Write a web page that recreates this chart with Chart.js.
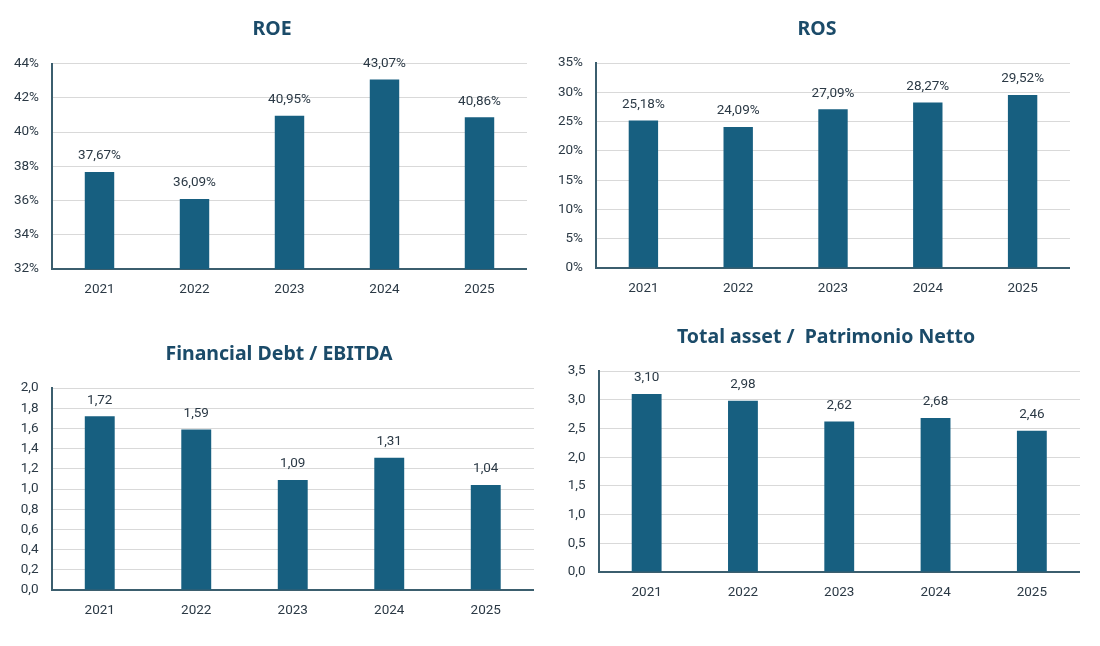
<!DOCTYPE html>
<html>
<head>
<meta charset="utf-8">
<script src="https://cdn.jsdelivr.net/npm/chart.js@4"></script>
<style>
  html, body { margin: 0; padding: 0; background: #ffffff; }
  body { width: 1100px; height: 646px; position: relative; overflow: hidden; }
  canvas { position: absolute; }
</style>
</head>
<body>
<canvas id="c1"></canvas>
<canvas id="c2"></canvas>
<canvas id="c3"></canvas>
<canvas id="c4"></canvas>
<script>
// ---- DATA ----
const years = ['2021', '2022', '2023', '2024', '2025'];
const roeValues = [37.67, 36.09, 40.95, 43.07, 40.86];
const rosValues = [25.18, 24.09, 27.09, 28.27, 29.52];
const debtEbitdaValues = [1.72, 1.59, 1.09, 1.31, 1.04];
const assetEquityValues = [3.10, 2.98, 2.62, 2.68, 2.46];

const titles = ['ROE', 'ROS', 'Financial Debt / EBITDA', 'Total asset /  Patrimonio Netto'];
const roeAxis = { min: 32, max: 44, step: 2 };
const rosAxis = { min: 0, max: 35, step: 5 };
const debtAxis = { min: 0, max: 2, step: 0.2 };
const assetAxis = { min: 0, max: 3.5, step: 0.5 };

// ---- STYLE ----
const BAR = '#175f80';
const TITLE = '#1b4b69';
const TEXT = '#2b3945';
const AXIS = '#3b5e6e';
const GRID = '#d9d9d9';
const FONT = 'Roboto, "Noto Sans", sans-serif';
const TICK_SIZE = 13.5;

const fmt = (v, dec) => v.toFixed(dec).replace('.', ',');

const dataLabels = {
  id: 'dataLabels',
  afterLayout(chart, args, opts) {
    // centre the title at the requested x position
    if (chart.titleBlock && opts.titleCenter != null) {
      chart.titleBlock.left = opts.titleCenter - 300;
      chart.titleBlock.right = opts.titleCenter + 300;
    }
  },
  afterDatasetsDraw(chart, args, opts) {
    const ctx = chart.ctx;
    ctx.save();
    ctx.font = TICK_SIZE + 'px ' + FONT;
    ctx.fillStyle = TEXT;
    ctx.textAlign = 'center';
    ctx.textBaseline = 'middle';
    const meta = chart.getDatasetMeta(0);
    const data = chart.data.datasets[0].data;
    meta.data.forEach((bar, i) => {
      ctx.fillText(opts.format(data[i]), bar.x, bar.y - 16);
    });
    ctx.restore();
  }
};

function makeChart(id, cfg) {
  const el = document.getElementById(id);
  el.width = cfg.w; el.height = cfg.h;
  el.style.left = cfg.x + 'px'; el.style.top = cfg.y + 'px';
  el.style.width = cfg.w + 'px'; el.style.height = cfg.h + 'px';
  new Chart(el, {
    type: 'bar',
    data: {
      labels: years,
      datasets: [{
        data: cfg.values,
        backgroundColor: BAR,
        borderWidth: 0,
        categoryPercentage: 1,
        barPercentage: 0.31
      }]
    },
    plugins: [dataLabels],
    options: {
      responsive: false,
      animation: false,
      devicePixelRatio: 1,
      layout: { padding: 0 },
      plugins: {
        legend: { display: false },
        tooltip: { enabled: false },
        title: {
          display: true,
          text: cfg.title,
          color: TITLE,
          font: { family: '"Noto Sans", sans-serif', size: 19.5, weight: 'bold', lineHeight: 1.2 },
          padding: { top: cfg.titleTop, bottom: cfg.titleBottom }
        },
        dataLabels: { format: cfg.labelFmt, titleCenter: cfg.titleCenter }
      },
      scales: {
        x: {
          grid: { display: false, drawTicks: false },
          border: { display: true, color: AXIS, width: 2 },
          ticks: { color: TEXT, font: { family: FONT, size: TICK_SIZE }, padding: 13, maxRotation: 0 },
          afterFit(s) { s.height = 41; }
        },
        y: {
          min: cfg.axis.min,
          max: cfg.axis.max,
          grid: { color: GRID, lineWidth: 1, drawTicks: false },
          border: { display: true, color: AXIS, width: 2 },
          ticks: {
            stepSize: cfg.axis.step,
            color: TEXT,
            font: { family: FONT, size: TICK_SIZE },
            padding: 13,
            callback: cfg.tickFmt
          },
          afterFit(s) { s.width = cfg.yWidth; }
        }
      }
    }
  });
}

makeChart('c1', {
  x: 0, y: 0, w: 527, h: 310, yWidth: 52, titleCenter: 272,
  titleTop: 17.8, titleBottom: 22.4,
  title: titles[0], values: roeValues, axis: roeAxis,
  tickFmt: v => Math.round(v) + '%',
  labelFmt: v => fmt(v, 2) + '%'
});
makeChart('c2', {
  x: 550, y: 0, w: 520, h: 309, yWidth: 46, titleCenter: 267,
  titleTop: 17.8, titleBottom: 21.8,
  title: titles[1], values: rosValues, axis: rosAxis,
  tickFmt: v => Math.round(v) + '%',
  labelFmt: v => fmt(v, 2) + '%'
});
makeChart('c3', {
  x: 0, y: 326, w: 534, h: 305, yWidth: 51.5, titleCenter: 279,
  titleTop: 16.3, titleBottom: 22.3,
  title: titles[2], values: debtEbitdaValues, axis: debtAxis,
  tickFmt: v => fmt(v, 1),
  labelFmt: v => fmt(v, 2)
});
makeChart('c4', {
  x: 550, y: 310, w: 530, h: 303, yWidth: 48.5, titleCenter: 276,
  titleTop: 15.3, titleBottom: 22.3,
  title: titles[3], values: assetEquityValues, axis: assetAxis,
  tickFmt: v => fmt(v, 1),
  labelFmt: v => fmt(v, 2)
});
</script>
</body>
</html>
